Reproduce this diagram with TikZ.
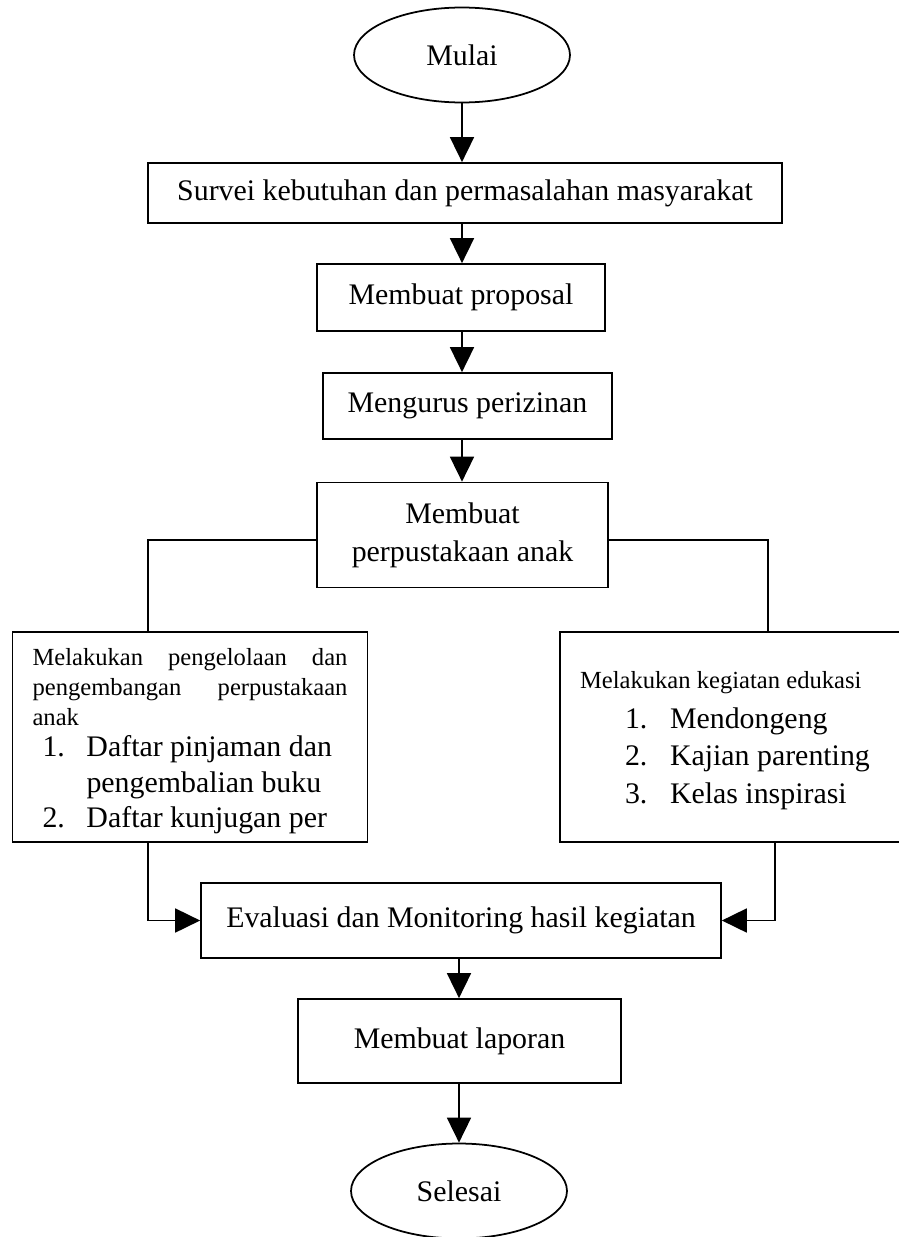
\documentclass[tikz,border=0pt]{standalone}
\usepackage{fontspec}
\setmainfont{Liberation Serif}
\usetikzlibrary{shapes.geometric, arrows.meta}
\setlength{\parindent}{0pt}
\tikzstyle{startstop} = [ellipse, draw, line width=1pt, minimum width=4.32cm, minimum height=1.9cm, inner sep=0pt, font=\fontsize{17}{20}\selectfont]
\tikzstyle{process} = [rectangle, draw, line width=1pt, inner sep=0pt, align=center, font=\fontsize{17}{21.6}\selectfont]
\tikzstyle{listbox} = [rectangle, draw, line width=1pt, inner xsep=0.4cm, inner ysep=0pt]
\tikzstyle{line} = [line width=1pt]
\tikzstyle{arrow} = [line width=1pt, -{Triangle[length=0.5cm, width=0.48cm]}]

\begin{document}
\begin{tikzpicture}[x=0.02cm, y=-0.02cm]
\useasboundingbox (0,0) rectangle (899,1237);
\clip (0,0) rectangle (899,1237);

% Main steps
\node (mulai) [startstop] at (462,55) {Mulai};
\node (survei) [process, minimum width=12.68cm, minimum height=1.2cm] at (465,193) {Survei kebutuhan dan permasalahan masyarakat};
\node (proposal) [process, minimum width=5.76cm, minimum height=1.34cm] at (461,297.5) {Membuat proposal};
\node (izin) [process, minimum width=5.78cm, minimum height=1.32cm] at (467.5,406) {Mengurus perizinan};
\node (perpus) [process, minimum width=5.82cm, minimum height=2.1cm] at (462.5,535) {Membuat\\perpustakaan anak};

% Two branches
\node (kelola) [listbox] at (190,737) {\parbox[c][4.2cm][t]{6.3cm}{%
\vspace*{0.33cm}
{\fontsize{14}{17}\selectfont Melakukan\hfill pengelolaan\hfill dan\\
pengembangan\hfill perpustakaan\\
anak\par}
{\vspace{-2pt}\fontsize{17}{20}\selectfont
\hspace*{0.2cm}\makebox[0.88cm][l]{1.}Daftar pinjaman dan\\
\hspace*{1.08cm}pengembalian buku\\
\hspace*{0.2cm}\makebox[0.88cm][l]{2.}Daftar kunjugan per\par}}};
\node (edukasi) [listbox] at (735,737) {\parbox[c][4.2cm][t]{6.2cm}{%
\vspace*{0.78cm}
{\fontsize{14}{17}\selectfont Melakukan kegiatan edukasi\par}
{\vspace{1.7pt}\fontsize{17}{21.3}\selectfont
\hspace*{0.9cm}\makebox[0.9cm][l]{1.}Mendongeng\\
\hspace*{0.9cm}\makebox[0.9cm][l]{2.}Kajian parenting\\
\hspace*{0.9cm}\makebox[0.9cm][l]{3.}Kelas inspirasi\par}}};

% Closing steps
\node (evaluasi) [process, minimum width=10.4cm, minimum height=1.5cm] at (461,920.5) {Evaluasi dan Monitoring hasil kegiatan};
\node (laporan) [process, minimum width=6.46cm, minimum height=1.68cm] at (459.5,1041) {Membuat laporan};
\node (selesai) [startstop] at (459,1191) {Selesai};

% Branch corners
\coordinate (kiri) at (148,540);
\coordinate (kanan) at (768,540);
\coordinate (kiribawah) at (148,842);
\coordinate (kananbawah) at (775,842);

% Connectors
\draw [arrow] (mulai.south) -- (mulai.south |- survei.north);
\draw [arrow] (survei.south -| mulai.south) -- (mulai.south |- proposal.north);
\draw [arrow] (proposal.south -| mulai.south) -- (mulai.south |- izin.north);
\draw [arrow] (izin.south -| mulai.south) -- (mulai.south |- perpus.north);
\draw [line] (perpus.west |- kiri) -- (kiri) -- (kiri |- kelola.north);
\draw [line] (perpus.east |- kanan) -- (kanan) -- (kanan |- edukasi.north);
\draw [arrow] (kiribawah |- kelola.south) |- (evaluasi.west);
\draw [arrow] (kananbawah |- edukasi.south) |- (evaluasi.east);
\draw [arrow] (evaluasi.south -| selesai.north) -- (selesai.north |- laporan.north);
\draw [arrow] (laporan.south -| selesai.north) -- (selesai.north);

\end{tikzpicture}
\end{document}
